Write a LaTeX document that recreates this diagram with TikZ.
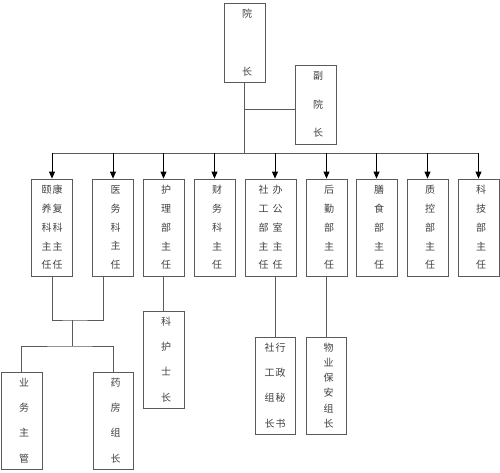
\documentclass[tikz,border=0pt]{standalone}
\usepackage{fontspec}
\newfontfamily\cjk{Noto Sans CJK SC}
\usetikzlibrary{arrows.meta}
\definecolor{lncol}{HTML}{5A5A5A}
\definecolor{txcol}{HTML}{404040}
\newcommand\xsh{\hspace*{5pt}}
\begin{document}
\begin{tikzpicture}[x=1pt,y=-1pt,
  box/.style={draw=lncol,line width=0.8pt,inner sep=0pt,minimum width=41pt,minimum height=97pt,align=center,text=txcol},
  sp/.style={font=\cjk\fontsize{10}{#1}\selectfont},
  wire/.style={draw=lncol,line width=0.8pt},
  arr/.style={draw=black,line width=0.9pt,-{Triangle[width=6pt,length=7pt]}}]
\useasboundingbox (0,0) rectangle (500,473);
% top
\node[box,sp=58,minimum height=79pt] (yz) at (244.5,42.5) {\xsh{}院\\\xsh{}长};
\node[box,sp=28.5,minimum height=79pt] (fyz) at (315.5,104.5) {\xsh{}副\\\xsh{}院\\\xsh{}长};
% level 2
\node[box,sp=18.75] (b1) at (52,227.5) {颐\kern1pt 康\\养\kern1pt 复\\科\kern1pt 科\\主\kern1pt 主\\任\kern1pt 任};
\node[box,sp=18.75] (b2) at (113,227.5) {\xsh{}医\\\xsh{}务\\\xsh{}科\\\xsh{}主\\\xsh{}任};
\node[box,sp=18.75] (b3) at (163.5,227.5) {\xsh{}护\\\xsh{}理\\\xsh{}部\\\xsh{}主\\\xsh{}任};
\node[box,sp=18.75] (b4) at (214.5,227.5) {\xsh{}财\\\xsh{}务\\\xsh{}科\\\xsh{}主\\\xsh{}任};
\node[box,sp=18.75,minimum width=51pt] (b5) at (270.5,227.5) {社\kern4pt 办\\工\kern4pt 公\\部\kern4pt 室\\主\kern4pt 主\\任\kern4pt 任};
\node[box,sp=18.75] (b6) at (326.5,227.5) {\xsh{}后\\\xsh{}勤\\\xsh{}部\\\xsh{}主\\\xsh{}任};
\node[box,sp=18.75] (b7) at (376.5,227.5) {\xsh{}膳\\\xsh{}食\\\xsh{}部\\\xsh{}主\\\xsh{}任};
\node[box,sp=18.75] (b8) at (427.5,227.5) {\xsh{}质\\\xsh{}控\\\xsh{}部\\\xsh{}主\\\xsh{}任};
\node[box,sp=18.75] (b9) at (478.5,227.5) {\xsh{}科\\\xsh{}技\\\xsh{}部\\\xsh{}主\\\xsh{}任};
% level 3
\node[box,sp=25.3] (hs) at (163.5,359.5) {\xsh{}科\\\xsh{}护\\\xsh{}士\\\xsh{}长};
\node[box,sp=25.3,minimum width=40pt] (sg) at (275,385.5) {社\kern1pt 行\\工\kern1pt 政\\组\kern1pt 秘\\长\kern1pt 书};
\node[box,sp=15.2,minimum width=40pt] (wy) at (326,385.5) {\xsh{}物\\\xsh{}业\\\xsh{}保\\\xsh{}安\\\xsh{}组\\\xsh{}长};
\node[box,sp=25.3] (yg) at (21.5,420.5) {\xsh{}业\\\xsh{}务\\\xsh{}主\\\xsh{}管};
\node[box,sp=25.3,minimum width=40pt] (yf) at (113,420.5) {\xsh{}药\\\xsh{}房\\\xsh{}组\\\xsh{}长};
% connectors
\coordinate (bus) at (244.5,153);
\coordinate (fj) at (244.5,109);
\coordinate (j1) at (72,320);
\coordinate (j2) at (72,346);
\draw[wire] (yz.south) -- (bus);
\draw[wire] (fj) -- (fyz.west |- fj);
\draw[wire] (b1.north |- bus) -- (b9.north |- bus);
\foreach \n in {b1,b2,b3,b4,b6,b7,b8,b9}
  \draw[arr] (\n.north |- bus) -- (\n.north);
\draw[arr] (sg |- bus) -- (sg |- b5.north);
\draw[wire] (b1.south) |- (j1) -| ([xshift=-10pt]b2.south);
\draw[wire] (j1) -- (j2);
\draw[wire] (yg.north) |- (j2) -| (yf.north);
\draw[wire] (b3.south) -- (hs.north);
\draw[wire] (sg |- b5.south) -- (sg.north);
\draw[wire] (wy |- b6.south) -- (wy.north);
\end{tikzpicture}
\end{document}
